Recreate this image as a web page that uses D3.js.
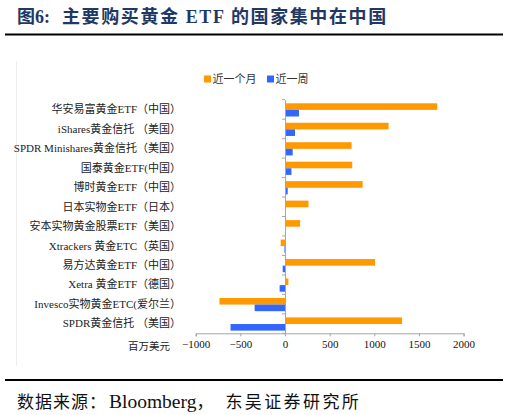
<!DOCTYPE html>
<html><head><meta charset="utf-8">
<script src="https://cdn.jsdelivr.net/npm/d3@7/dist/d3.min.js"></script>
<style>
html,body{margin:0;padding:0;background:#fff;}
svg{display:block;}
</style></head>
<body>
<svg id="c" width="509" height="415"></svg>
<script>
const categories = [
  "华安易富黄金ETF（中国）",
  "iShares黄金信托 （美国）",
  "SPDR Minishares黄金信托（美国）",
  "国泰黄金ETF(中国）",
  "博时黄金ETF（中国）",
  "日本实物金ETF（日本）",
  "安本实物黄金股票ETF（美国）",
  "Xtrackers 黄金ETC（英国）",
  "易方达黄金ETF（中国）",
  "Xetra 黄金ETF（德国）",
  "Invesco实物黄金ETC(爱尔兰）",
  "SPDR黄金信托 （美国）"
];
const monthValues = [1705, 1160, 746, 753, 870, 263, 169, -48, 1008, 38, -734, 1311];
const weekValues  = [157, 112, 86, 72, 30, 2, 2, -6, -26, -60, -340, -610];
const xTicks = [-1000, -500, 0, 500, 1000, 1500, 2000];
const seriesNames = ["近一个月", "近一周"];
const colors = ["#FF9900", "#3366FF"];

const svg = d3.select("#c");
const serif = "'Liberation Serif','Times New Roman','Noto Sans CJK SC',serif";

// Title
const title = svg.append("text").attr("x", 17).attr("y", 23)
  .attr("font-family", "'Liberation Serif','Noto Sans CJK SC',serif")
  .attr("font-weight", "bold").attr("font-size", 18).attr("fill", "#1f3864");
title.append("tspan").text("图6:");
title.append("tspan").attr("dx", 12).attr("letter-spacing", 1.6).text("主要购买黄金 ETF 的国家集中在中国");
svg.append("line").attr("x1", 5).attr("x2", 503).attr("y1", 34.5).attr("y2", 34.5)
  .attr("stroke", "#000").attr("stroke-width", 2);

// faint chart border
svg.append("line").attr("x1", 16.5).attr("x2", 16.5).attr("y1", 61).attr("y2", 366)
  .attr("stroke", "#eeeeee").attr("stroke-width", 1);

// scales
const x = d3.scaleLinear().domain([-1000, 2000]).range([195.7, 463.6]);
const y = d3.scaleBand().domain(categories).range([99.7, 333.3]).paddingInner(0).paddingOuter(0);
const barH = 6.6;
const offTop = 3.6;

const g = svg.append("g");
categories.forEach((c, i) => {
  const y0 = y(c) + offTop;
  [monthValues[i], weekValues[i]].forEach((v, s) => {
    g.append("rect")
      .attr("x", x(Math.min(0, v)))
      .attr("y", y0 + s * barH)
      .attr("width", Math.abs(x(v) - x(0)))
      .attr("height", barH)
      .attr("fill", colors[s]);
  });
});

// x axis
const xAxis = svg.append("g").attr("transform", "translate(0,333.3)")
  .call(d3.axisBottom(x).tickValues(xTicks).tickSize(3).tickFormat(d3.format("d")));
xAxis.select(".domain").attr("stroke", "#a6a6a6");
xAxis.selectAll(".tick line").attr("stroke", "#a6a6a6");
xAxis.selectAll(".tick text").attr("font-family", serif).attr("font-size", 11)
  .attr("fill", "#111").attr("dy", "0.9em").attr("y", 5);

// y axis at zero
const yAxis = svg.append("g").attr("transform", `translate(${x(0)},0)`)
  .call(d3.axisLeft(y).tickSize(0).tickFormat(""));
yAxis.select(".domain").attr("stroke", "#a6a6a6");
const bounds = categories.map(c => y(c)).concat([y.range()[1]]);
yAxis.selectAll(".bt").data(bounds).join("line").attr("class", "bt")
  .attr("x1", -3).attr("x2", 0).attr("y1", d => d).attr("y2", d => d)
  .attr("stroke", "#a6a6a6");

// category labels
svg.append("g").selectAll("text").data(categories).join("text")
  .attr("x", 181).attr("y", d => y(d) + y.bandwidth() / 2)
  .attr("dy", "0.35em").attr("text-anchor", "end")
  .attr("font-family", serif).attr("font-size", 11).attr("fill", "#222")
  .text(d => d);

// unit label
svg.append("text").attr("x", 170).attr("y", 350).attr("text-anchor", "end")
  .attr("font-family", serif).attr("font-size", 10.5).attr("fill", "#222").text("百万美元");

// legend
const legX = [204, 267];
seriesNames.forEach((n, i) => {
  svg.append("rect").attr("x", legX[i]).attr("y", 75.5).attr("width", 7).attr("height", 7).attr("fill", colors[i]);
  svg.append("text").attr("x", legX[i] + 8.5).attr("y", 79).attr("dy", "0.35em")
    .attr("font-family", serif).attr("font-size", 11).attr("fill", "#333").text(n);
});

// bottom line and source
svg.append("line").attr("x1", 5).attr("x2", 503).attr("y1", 380).attr("y2", 380)
  .attr("stroke", "#000").attr("stroke-width", 2);
const src = svg.append("text").attr("x", 17).attr("y", 408)
  .attr("font-family", serif).attr("font-size", 17).attr("fill", "#111");
src.append("tspan").attr("letter-spacing", 1).text("数据来源：");
src.append("tspan").attr("dx", 2).attr("font-size", 19.5).text("Bloomberg");
src.append("tspan").text("，");
src.append("tspan").attr("dx", 12).attr("letter-spacing", 2.4).text("东吴证券研究所");
</script>
</body></html>
